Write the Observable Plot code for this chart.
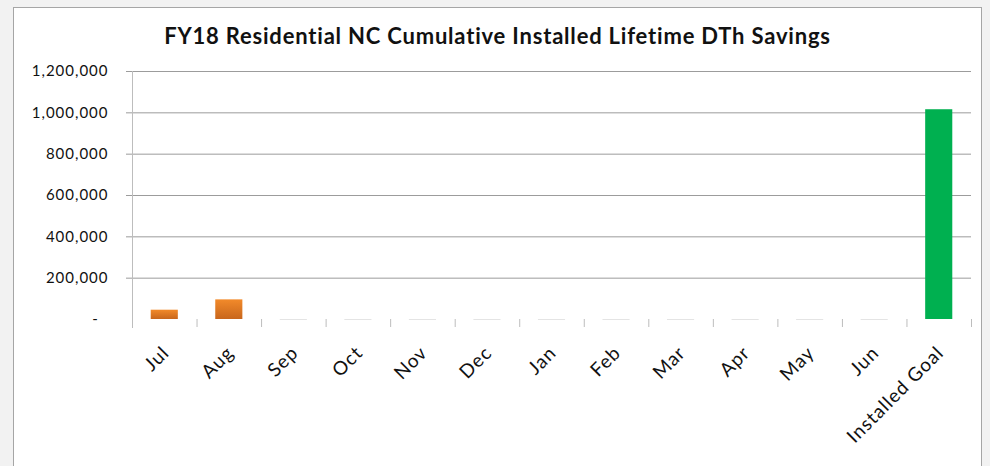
<!DOCTYPE html>
<html><head><meta charset="utf-8">
<script src="https://cdn.jsdelivr.net/npm/d3@7"></script>
<script src="https://cdn.jsdelivr.net/npm/@observablehq/plot@0.6"></script>
<style>
body{margin:0;background:#f2f2f2;}
#wrap{position:relative;width:990px;height:466px;overflow:hidden;background:#f2f2f2;}
#panel{position:absolute;left:13px;top:7px;width:969px;height:480px;background:#fff;border:1px solid #a6a6a6;box-sizing:border-box;}
#title{position:absolute;left:13px;width:969px;top:22px;line-height:26px;text-align:center;font:bold 22px Lato, sans-serif;letter-spacing:0.8px;color:#111;}
#chart{position:absolute;left:0;top:0;}
</style></head><body>
<div id="wrap"><div id="panel"></div><div id="title">FY18 Residential NC Cumulative Installed Lifetime DTh Savings</div><div id="chart"></div></div>
<script>
const categories = ["Jul","Aug","Sep","Oct","Nov","Dec","Jan","Feb","Mar","Apr","May","Jun","Installed Goal"];
const savings = [45000, 95000, 0, 0, 0, 0, 0, 0, 0, 0, 0, 0, 1015000];
const yTicks = [0, 200000, 400000, 600000, 800000, 1000000, 1200000];
const goalCategory = "Installed Goal";

const data = categories.map((c, i) => ({cat: c, v: savings[i]}));
const months = data.filter(d => d.cat !== goalCategory);
const goal = data.filter(d => d.cat === goalCategory);

const W = 990, H = 466, ML = 132, MR = 19, MT = 71, MB = 147;
const step = (W - ML - MR) / categories.length;
const fmt = d3.format(",");

const chart = Plot.plot({
  width: W, height: H,
  marginLeft: ML, marginRight: MR, marginTop: MT, marginBottom: MB,
  style: {fontFamily: "Lato, sans-serif", fontSize: "15px", color: "#111", background: "transparent", letterSpacing: "1px"},
  x: {type: "band", domain: categories, paddingInner: 0.58, paddingOuter: 0.29, round: false, axis: null},
  y: {domain: [0, 1200000], axis: null},
  marks: [
    Plot.gridY(yTicks.filter(d => d > 0), {stroke: "#9c9c9c", strokeOpacity: 1, insetLeft: -6}),
    Plot.axisY(yTicks, {tickSize: 0, tickPadding: 24, label: null, tickFormat: d => d === 0 ? "-\u00a0\u00a0" : fmt(d), fontSize: 15}),
    Plot.frame({anchor: "left", stroke: "#bdbdbd", insetBottom: -8}),
    Plot.ruleX(categories, {x: d => d, dx: -step / 2, stroke: "#bdbdbd", insetTop: H - MT - MB, insetBottom: -8}),
    Plot.ruleX([goalCategory], {x: d => d, dx: step / 2, stroke: "#bdbdbd", insetTop: H - MT - MB, insetBottom: -8}),
    Plot.tickY(months.filter(d => d.v === 0), {x: "cat", y: "v", stroke: "#e4e4e4"}),
    Plot.barY(months, {x: "cat", y: "v", fill: "url(#orangeGrad)"}),
    Plot.barY(goal, {x: "cat", y: "v", fill: "#00b050"}),
    Plot.text(categories, {x: d => d, frameAnchor: "bottom", text: d => d, rotate: -45, textAnchor: "end", lineAnchor: "top", dx: -4, dy: 25, fontSize: 19, fill: "#111"})
  ]
});

const svg = d3.select(chart);
const grad = svg.insert("defs", ":first-child").append("linearGradient")
  .attr("id", "orangeGrad").attr("x1", 0).attr("y1", 0).attr("x2", 0).attr("y2", 1);
grad.append("stop").attr("offset", "0%").attr("stop-color", "#f28a2a");
grad.append("stop").attr("offset", "100%").attr("stop-color", "#c8661c");

document.getElementById("chart").appendChild(chart);
</script>
</body></html>
